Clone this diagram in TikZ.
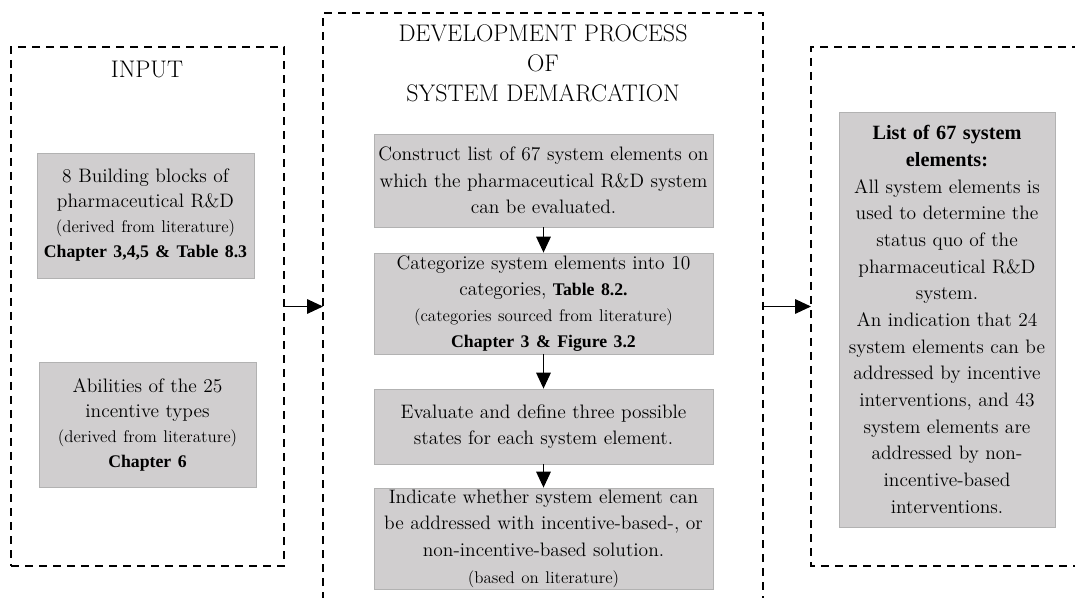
\documentclass[tikz,border=0pt]{standalone}
\usepackage{fontspec}
\newfontfamily\bsf{Liberation Serif}
\usetikzlibrary{arrows.meta}
\definecolor{boxfill}{RGB}{208,206,207}
\definecolor{boxborder}{RGB}{178,178,178}
\newcommand\myBody{\fontsize{14.6}{19.5}\selectfont}
\newcommand\mySmall{\fontsize{12.7}{19.5}\selectfont}
\newcommand\myBold{\bsf\bfseries\fontsize{13.3}{19.5}\selectfont}
\newcommand\myHead{\fontsize{18}{22.5}\selectfont}
\tikzset{
  frame/.style={line width=1.3pt, dash pattern=on 6pt off 4.5pt},
  graybox/.style 2 args={draw=boxborder, fill=boxfill, line width=0.6pt, inner sep=0pt,
     align=center, text width=#1-6, minimum width=#1, minimum height=#2, font=\myBody},
  flow/.style={line width=0.8pt, -{Triangle[length=12pt,width=11pt]}},
  title/.style={align=center, font=\myHead, inner sep=0pt},
}
\begin{document}
\begin{tikzpicture}[x=0.75pt,y=-0.75pt]
\useasboundingbox (0,0) rectangle (1075,598);

% frames
\node[frame, draw, rectangle, minimum width=273*0.75pt, minimum height=519*0.75pt, inner sep=0pt] (input) at (147.5,306.5) {};
\coordinate (devTL) at (323,13);
\coordinate (devTR) at (763,13);
\coordinate (devBL) at (323,600);
\coordinate (devBR) at (763,600);
\draw[frame] (devBL) -- (devTL) -- (devTR) -- (devBR);
\coordinate (outTL) at (811,47);
\coordinate (outBL) at (811,566);
\coordinate (outTR) at (1080,47);
\coordinate (outBR) at (1080,566);
\draw[frame] (outTR) -- (outTL) -- (outBL) -- (outBR);

% titles
\node[title] (tin) at (147,70) {INPUT};
\node[title] (tdev) at (543,63) {DEVELOPMENT PROCESS\\OF\\SYSTEM DEMARCATION};

% left boxes
\node[graybox={217*0.75pt}{125*0.75pt}, font=\fontsize{14.6}{18.75}\selectfont] (l1) at (145.5,215.5)
  {8 Building blocks of\\pharmaceutical R\&D\\{\mySmall(derived from literature)}\\{\myBold Chapter 3,4,5 \& Table 8.3}};
\node[graybox={217*0.75pt}{125*0.75pt}, font=\fontsize{14.6}{18.75}\selectfont] (l2) at (147.5,424.5)
  {Abilities of the 25\\incentive types\\{\mySmall(derived from literature)}\\{\myBold Chapter 6}};

% middle boxes
\node[graybox={339*0.75pt}{93*0.75pt}, font=\fontsize{14.6}{20}\selectfont] (m1) at (543.5,180.5)
  {Construct list of 67 system elements on\\which the pharmaceutical R\&D system\\can be evaluated.};
\node[graybox={339*0.75pt}{101*0.75pt}] (m2) at (543.5,303.5)
  {Categorize system elements into 10\\categories, {\myBold Table 8.2.}\\{\mySmall(categories sourced from literature)}\\{\myBold Chapter 3 \& Figure 3.2}};
\node[graybox={339*0.75pt}{75*0.75pt}] (m3) at (543.5,426.5)
  {Evaluate and define three possible\\states for each system element.};
\node[graybox={339*0.75pt}{101*0.75pt}, font=\fontsize{14.6}{20}\selectfont] (m4) at (543.5,538.5)
  {Indicate whether system element can\\be addressed with incentive-based-, or\\non-incentive-based solution.\\{\mySmall(based on literature)}};

% right box
\node[graybox={216*0.75pt}{415*0.75pt}, font=\fontsize{14.6}{20}\selectfont] (out) at (947,319.5)
  {{\bsf\bfseries\fontsize{15.2}{20}\selectfont List of 67 system\\elements:}\\All system elements is\\used to determine the\\status quo of the\\pharmaceutical R\&D\\system.\\An indication that 24\\system elements can be\\addressed by incentive\\interventions, and 43\\system elements are\\addressed by non-\\incentive-based\\interventions.};

% connectors
\coordinate (devL) at (323,306.5);
\coordinate (devR) at (763,306.5);
\coordinate (outL) at (811,306.5);
\draw[flow] (input.east) -- (devL);
\draw[flow] (devR) -- (outL);
\draw[flow] (m1.south) -- (m2.north);
\draw[flow] (m2.south) -- (m3.north);
\draw[flow] (m3.south) -- (m4.north);
\end{tikzpicture}
\end{document}
